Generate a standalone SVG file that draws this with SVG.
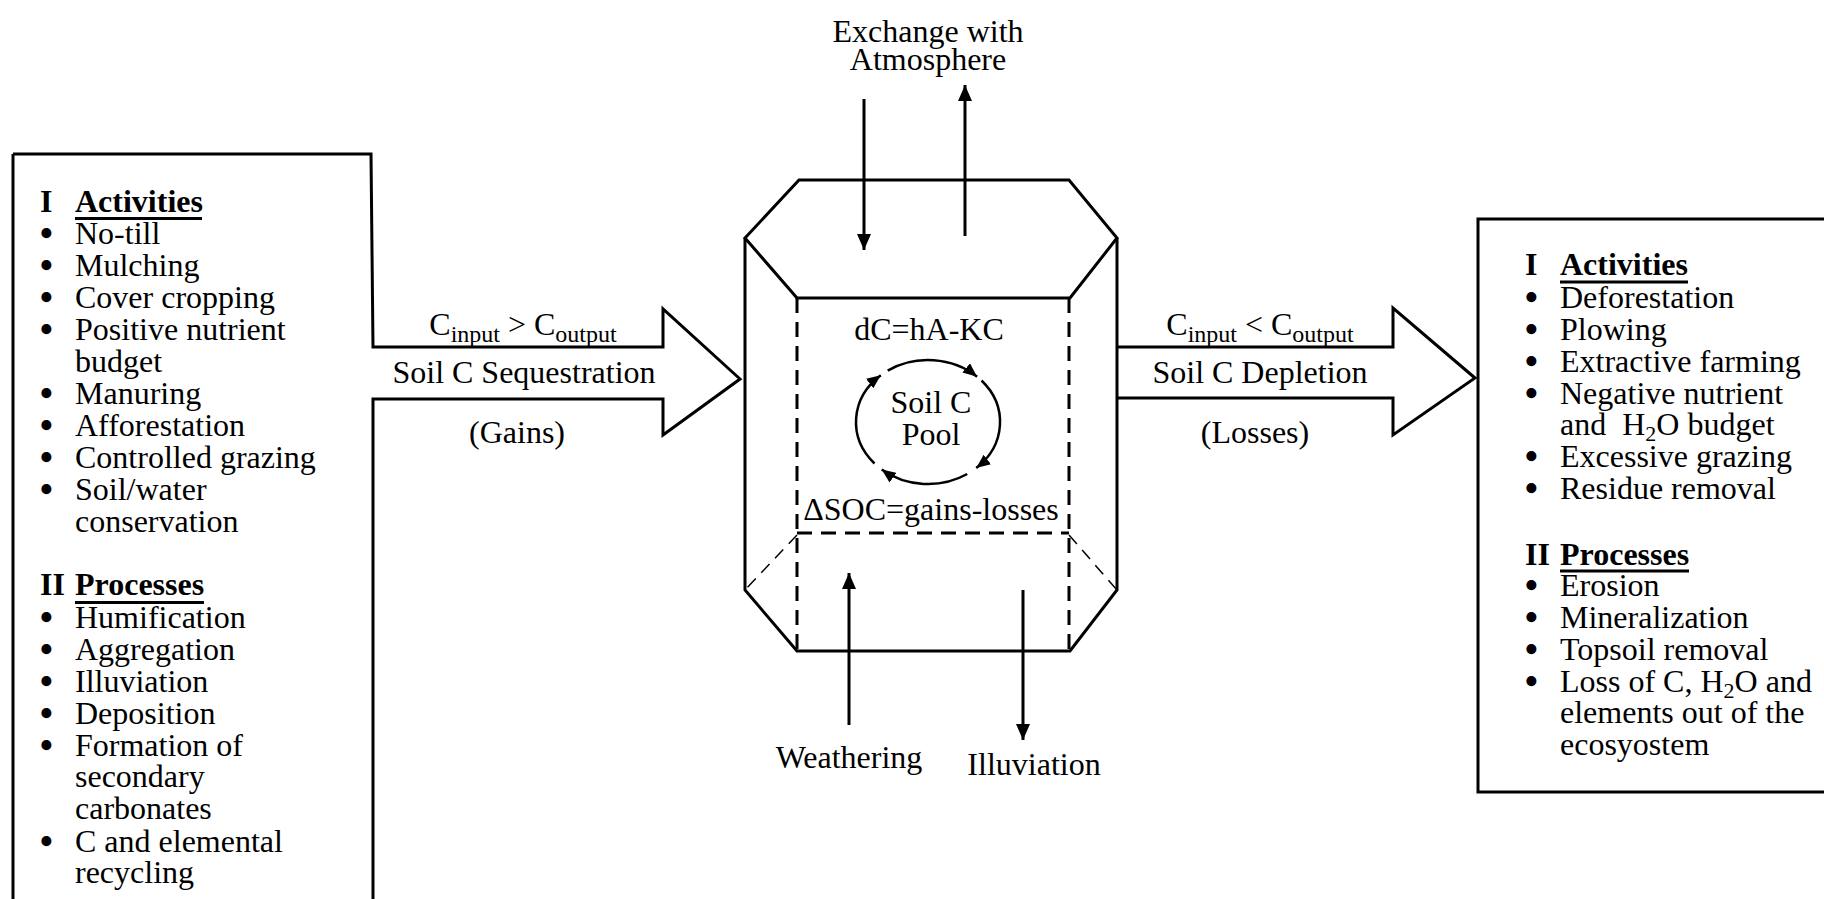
<svg xmlns="http://www.w3.org/2000/svg" width="1824" height="899" viewBox="0 0 1824 899">
<style>
text{font-family:"Liberation Serif","Times New Roman",serif;font-size:32px;fill:#000}
.b{font-weight:bold}
.m{text-anchor:middle}
.sub{font-size:24px}
.s2{font-size:22px}
.bu{font-size:42px}
.ln{fill:none;stroke:#000;stroke-width:3}
.dash{fill:none;stroke:#000;stroke-width:3;stroke-dasharray:15 9}
.thin{fill:none;stroke:#000;stroke-width:1.5;stroke-dasharray:12 8}
.cyc{fill:none;stroke:#000;stroke-width:2.5}
</style>
<defs>
<marker id="ah" viewBox="0 0 16 14" refX="16" refY="7" markerWidth="16" markerHeight="14" markerUnits="userSpaceOnUse" orient="auto"><path d="M0,0 L16,7 L0,14 z" fill="#000"/></marker>
<marker id="ahs" viewBox="0 0 14 12" refX="14" refY="6" markerWidth="14" markerHeight="12" markerUnits="userSpaceOnUse" orient="auto"><path d="M0,0 L14,6 L0,12 z" fill="#000"/></marker>
</defs>
<rect width="1824" height="899" fill="#fff"/>

<g id="left-box">
<path class="ln" d="M13,154 L371,154 L373,347 L663,347 L663,309 L740,379 L663,435 L663,399 L373,399 L373,910 M13,154 L13,910"/>
<text x="40" y="212" class="b">I</text>
<text x="75" y="212" class="b">Activities</text>
<line x1="75" y1="218.5" x2="202" y2="218.5" stroke="#000" stroke-width="3"/>
<text x="39" y="247" class="bu">•</text><text x="75" y="244">No-till</text>
<text x="39" y="279" class="bu">•</text><text x="75" y="276">Mulching</text>
<text x="39" y="311" class="bu">•</text><text x="75" y="308">Cover cropping</text>
<text x="39" y="343" class="bu">•</text><text x="75" y="340">Positive nutrient</text>
<text x="75" y="372">budget</text>
<text x="39" y="407" class="bu">•</text><text x="75" y="404">Manuring</text>
<text x="39" y="439" class="bu">•</text><text x="75" y="436">Afforestation</text>
<text x="39" y="471" class="bu">•</text><text x="75" y="468">Controlled grazing</text>
<text x="39" y="503" class="bu">•</text><text x="75" y="500">Soil/water</text>
<text x="75" y="532">conservation</text>
<text x="40" y="595" class="b">II</text>
<text x="75" y="595" class="b">Processes</text>
<line x1="75" y1="602.5" x2="204" y2="602.5" stroke="#000" stroke-width="3"/>
<text x="39" y="631" class="bu">•</text><text x="75" y="628">Humification</text>
<text x="39" y="663" class="bu">•</text><text x="75" y="660">Aggregation</text>
<text x="39" y="695" class="bu">•</text><text x="75" y="692">Illuviation</text>
<text x="39" y="727" class="bu">•</text><text x="75" y="724">Deposition</text>
<text x="39" y="759" class="bu">•</text><text x="75" y="756">Formation of</text>
<text x="75" y="787">secondary</text>
<text x="75" y="819">carbonates</text>
<text x="39" y="855" class="bu">•</text><text x="75" y="852">C and elemental</text>
<text x="75" y="883">recycling</text>
</g>

<g id="gain-label">
<text x="523" y="335" class="m">C<tspan class="sub" dy="7">input</tspan><tspan dy="-7"> &gt; C</tspan><tspan class="sub" dy="7">output</tspan></text>
<text x="524" y="383" class="m">Soil C Sequestration</text>
<text x="517" y="443" class="m">(Gains)</text>
</g>

<g id="soil-pool">
<path class="ln" d="M799,180 L1069,180 L1117,238 L1070,298 L797,298 L745,238 Z"/>
<path class="ln" d="M745,238 L745,590 L797,651 L1070,651 L1117,590 L1117,238"/>
<path class="dash" d="M797,298 L797,651 M1069,298 L1069,651 M797,533 L1069,533"/>
<path class="thin" d="M797,535 L745,590 M1069,535 L1117,590"/>
<text x="929" y="340" class="m">dC=hA-KC</text>
<text x="931" y="413" class="m">Soil C</text>
<text x="931" y="445" class="m">Pool</text>
<text x="931" y="520" class="m">ΔSOC=gains-losses</text>
<g id="cycle">
<path class="cyc" marker-end="url(#ahs)" d="M887.7,370.6 A72,62 0 0 1 977.1,376.7"/>
<path class="cyc" marker-end="url(#ahs)" d="M981.5,380.5 A72,62 0 0 1 976.2,468.1"/>
<path class="cyc" marker-end="url(#ahs)" d="M967.2,474 A72,62 0 0 1 881.7,469.5"/>
<path class="cyc" marker-end="url(#ahs)" d="M874.5,463.5 A72,62 0 0 1 880.8,375.2"/>
</g>
</g>

<g id="atmosphere">
<text x="928" y="42" class="m">Exchange with</text>
<text x="928" y="70" class="m">Atmosphere</text>
</g>
<g id="weathering"><text x="849" y="768" class="m">Weathering</text></g>
<g id="illuviation"><text x="1034" y="775" class="m">Illuviation</text></g>

<g id="connectors">
<line class="ln" x1="864" y1="99" x2="864" y2="250" marker-end="url(#ah)"/>
<line class="ln" x1="965" y1="236" x2="965" y2="85" marker-end="url(#ah)"/>
<line class="ln" x1="849" y1="725" x2="849" y2="573" marker-end="url(#ah)"/>
<line class="ln" x1="1023" y1="590" x2="1023" y2="740" marker-end="url(#ah)"/>
</g>

<g id="loss-arrow">
<path class="ln" d="M1117,347 L1393,347 L1393,308 L1475,378 L1393,435 L1393,398 L1117,398"/>
<text x="1260" y="335" class="m">C<tspan class="sub" dy="7">input</tspan><tspan dy="-7"> &lt; C</tspan><tspan class="sub" dy="7">output</tspan></text>
<text x="1260" y="383" class="m">Soil C Depletion</text>
<text x="1255" y="443" class="m">(Losses)</text>
</g>

<g id="right-box">
<path class="ln" d="M1830,219 L1478,219 L1478,792 L1830,792"/>
<text x="1525" y="275" class="b">I</text>
<text x="1560" y="275" class="b">Activities</text>
<line x1="1560" y1="282" x2="1688" y2="282" stroke="#000" stroke-width="3"/>
<text x="1524" y="311" class="bu">•</text><text x="1560" y="308">Deforestation</text>
<text x="1524" y="343" class="bu">•</text><text x="1560" y="340">Plowing</text>
<text x="1524" y="375" class="bu">•</text><text x="1560" y="372">Extractive farming</text>
<text x="1524" y="407" class="bu">•</text><text x="1560" y="404">Negative nutrient</text>
<text x="1560" y="435" xml:space="preserve">and  H<tspan class="s2" dy="6">2</tspan><tspan dy="-6">O budget</tspan></text>
<text x="1524" y="470" class="bu">•</text><text x="1560" y="467">Excessive grazing</text>
<text x="1524" y="502" class="bu">•</text><text x="1560" y="499">Residue removal</text>
<text x="1525" y="565" class="b">II</text>
<text x="1560" y="565" class="b">Processes</text>
<line x1="1560" y1="571" x2="1689" y2="571" stroke="#000" stroke-width="3"/>
<text x="1524" y="599" class="bu">•</text><text x="1560" y="596">Erosion</text>
<text x="1524" y="631" class="bu">•</text><text x="1560" y="628">Mineralization</text>
<text x="1524" y="663" class="bu">•</text><text x="1560" y="660">Topsoil removal</text>
<text x="1524" y="695" class="bu">•</text><text x="1560" y="692">Loss of C, H<tspan class="s2" dy="6">2</tspan><tspan dy="-6">O and</tspan></text>
<text x="1560" y="723">elements out of the</text>
<text x="1560" y="755">ecosyostem</text>
</g>
</svg>
